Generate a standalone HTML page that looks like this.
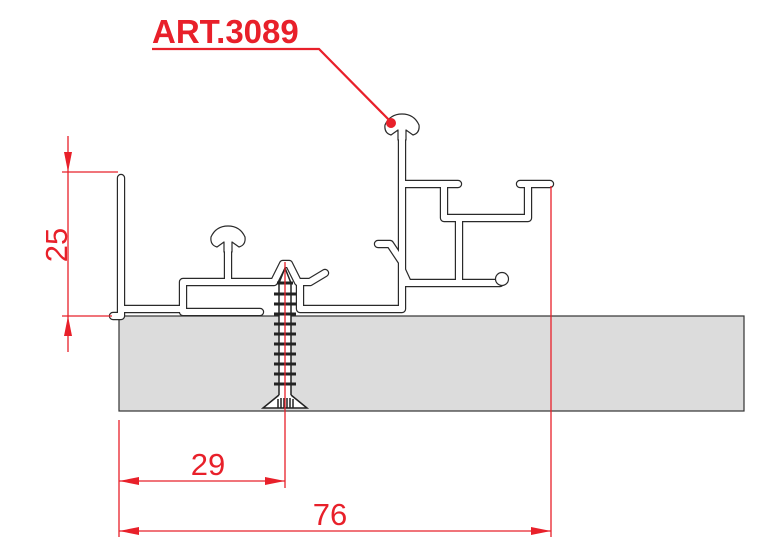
<!DOCTYPE html>
<html><head><style>html,body{margin:0;padding:0;background:#fff;width:777px;height:558px;overflow:hidden}</style></head>
<body>
<svg width="777" height="558" viewBox="0 0 777 558" xmlns="http://www.w3.org/2000/svg" font-family="Liberation Sans, sans-serif">
<rect x="119" y="316" width="625" height="95" fill="#dcdcdc" stroke="#333" stroke-width="1.2"/>
<g fill="none" stroke-linejoin="round" stroke-linecap="round">
<g id="prof">
<path d="M121 178 V312 M113 316 H121 V309 H183 V282 H228 V240 M228 282 H274 M274 282 L283 264 H289 L298 282 H310 L325 273 M300 282 V309 H402 M183 309 V312 H260 M402 309 V128 M402 184 H458 M444 184 V218 H528 V184 H550 M520 184 H528 M459 218 V283 H500 M402 283 H459 M402 262 L390 244 L378 244 M402 270 L408 283"/>
</g>
<use href="#prof" stroke="#2a2a2a" stroke-width="8.4"/>
<use href="#prof" stroke="#fff" stroke-width="6"/>
<circle cx="502" cy="279" r="6.5" fill="#fff" stroke="#2a2a2a" stroke-width="1.2"/>
<circle cx="502" cy="279" r="4.5" fill="#fff"/>
<path id="mh" d="M224 242 L217 247 Q210 245 211 237 Q216 226 228 226 Q240 226 245 237 Q246 245 239 247 L232 242 V252 H224 Z" fill="#fff" stroke="#2a2a2a" stroke-width="1.2"/>
<rect x="225" y="240" width="6" height="14" fill="#fff"/>
<g transform="translate(174,-112)">
<path d="M224 242 L217 247 Q210 245 211 237 Q216 226 228 226 Q240 226 245 237 Q246 245 239 247 L232 242 V252 H224 Z" fill="#fff" stroke="#2a2a2a" stroke-width="1.2"/>
<rect x="225" y="240" width="6" height="16" fill="#fff"/>
</g>
</g>
<g stroke="#222">
<path d="M279 395 V283 L285 268 L291 283 V395" fill="#fff" stroke-width="1.5"/>
<g stroke-width="3">
<line x1="277" y1="283" x2="293" y2="283"/><line x1="274" y1="294" x2="296" y2="294"/>
<line x1="274" y1="304" x2="296" y2="304"/><line x1="274" y1="314" x2="296" y2="314"/>
<line x1="274" y1="324" x2="296" y2="324"/><line x1="274" y1="334" x2="296" y2="334"/>
<line x1="274" y1="344" x2="296" y2="344"/><line x1="274" y1="354" x2="296" y2="354"/>
<line x1="274" y1="364" x2="296" y2="364"/><line x1="274" y1="374" x2="296" y2="374"/>
<line x1="274" y1="384" x2="296" y2="384"/>
</g>
<path d="M279 395 L263 408 H307 L291 395" fill="#fff" stroke-width="1.5"/>
<path d="M278 399 V408 M281 398 V408 M284 398 V408 M287 398 V408 M290 398 V408 M293 399 V408" stroke-width="1.5"/>
</g>
<g stroke="#e8202a" stroke-width="1.3" fill="none">
<line x1="68" y1="136" x2="68" y2="352"/>
<line x1="62" y1="172" x2="118" y2="172"/>
<line x1="62" y1="316" x2="112" y2="316"/>
<line x1="119" y1="420" x2="119" y2="537"/>
<line x1="285" y1="262" x2="285" y2="488"/>
<line x1="551" y1="186" x2="551" y2="537"/>
<line x1="119" y1="481" x2="285" y2="481"/>
<line x1="119" y1="531" x2="551" y2="531"/>
</g>
<g fill="#e8202a">
<path d="M68 172 L64 152 L72 152Z"/><path d="M68 316 L64 336 L72 336Z"/>
<path d="M119 481 L139 477 L139 485Z"/><path d="M285 481 L265 477 L265 485Z"/>
<path d="M119 531 L139 527 L139 535Z"/><path d="M551 531 L531 527 L531 535Z"/>
</g>
<g fill="#e8202a" font-size="31">
<text x="208" y="475" text-anchor="middle">29</text>
<text x="330" y="525" text-anchor="middle">76</text>
<text transform="translate(67,245) rotate(-90)" text-anchor="middle">25</text>
</g>
<text x="152" y="43" fill="#e8202a" font-size="33" font-weight="bold">ART.3089</text>
<path d="M152 49 H319 L391 122" stroke="#e8202a" stroke-width="2.2" fill="none"/>
<circle cx="391" cy="123" r="5" fill="#e8202a"/>
</svg>
</body></html>
